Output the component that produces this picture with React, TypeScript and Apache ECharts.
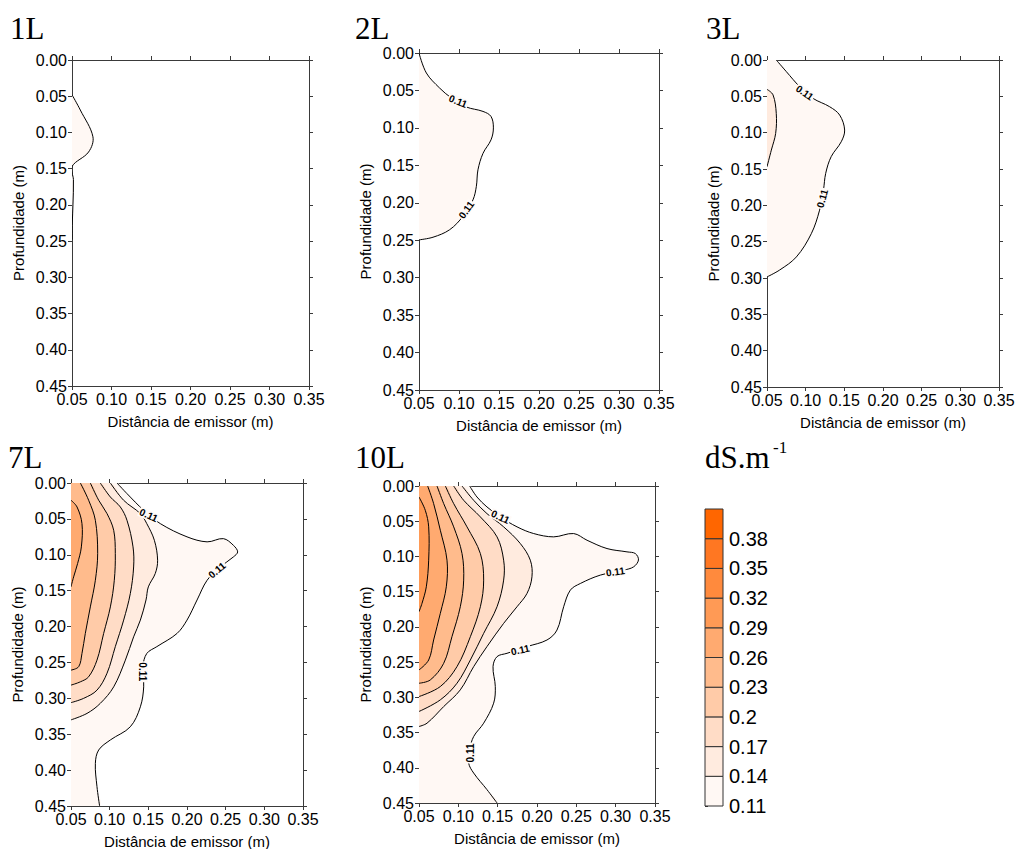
import React, { useEffect, useRef } from "react";
import * as echarts from "echarts";

// ---------- data ----------
const panelTitles = ["1L", "2L", "3L", "7L", "10L"];
const xTickMin = 0.05;
const xTickMax = 0.35;
const xTickStep = 0.05;
const yTickMin = 0;
const yTickMax = 0.45;
const yTickStep = 0.05;

const levels = [0.11, 0.14, 0.17, 0.2, 0.23, 0.26, 0.29, 0.32, 0.35, 0.38];
const bandColors = ["#FFF8F4", "#FFEBDF", "#FFDCC6", "#FFCBA8", "#FFBB8C", "#FFAA70", "#FF9A55", "#FF8A3D", "#FF7722", "#FF6600"];
const bandStep = 0.03;

// contour lines: [distance (m), depth (m)]
const l1_c011 = [[0.05, 0.048], [0.0605, 0.069], [0.0765, 0.106], [0.071, 0.127], [0.05, 0.147], [0.0518, 0.165], [0.0512, 0.2], [0.0504, 0.225], [0.05, 0.248]];

const l2_c011 = [[0.05, 0], [0.0592, 0.0267], [0.0758, 0.0468], [0.0904, 0.06], [0.109, 0.072], [0.13, 0.078], [0.14, 0.0847], [0.143, 0.1], [0.14, 0.116], [0.13, 0.134], [0.1237, 0.156], [0.1217, 0.178], [0.1175, 0.196], [0.105, 0.218], [0.0883, 0.236], [0.0675, 0.246], [0.05, 0.2495]];

const l3_c011 = [[0.062, 0], [0.075, 0.016], [0.0922, 0.0367], [0.1095, 0.0528], [0.131, 0.0643], [0.144, 0.0758], [0.1504, 0.0964], [0.146, 0.1125], [0.133, 0.133], [0.1259, 0.156], [0.123, 0.179], [0.118, 0.2066], [0.1073, 0.239], [0.088, 0.271], [0.0664, 0.289], [0.05, 0.2985]];
const l3_c014 = [[0.05, 0.0404], [0.0578, 0.048], [0.062, 0.0735], [0.0612, 0.101], [0.0556, 0.124], [0.05, 0.147]];

const l7_c011 = [[0.1095, 0], [0.1224, 0.0148], [0.144, 0.038], [0.1655, 0.0566], [0.2, 0.075], [0.226, 0.082], [0.247, 0.0775], [0.26, 0.0868], [0.2655, 0.096], [0.26, 0.103], [0.243, 0.117], [0.226, 0.1355], [0.213, 0.163], [0.2, 0.191], [0.187, 0.2097], [0.161, 0.228], [0.148, 0.2375], [0.143, 0.256], [0.144, 0.284], [0.1397, 0.3118], [0.1267, 0.3396], [0.1009, 0.358], [0.0858, 0.372], [0.0815, 0.3906], [0.0836, 0.423], [0.087, 0.45]];
const l7_c014 = [[0.1009, 0], [0.118, 0.024], [0.1397, 0.0427], [0.148, 0.0566], [0.1578, 0.0798], [0.162, 0.1076], [0.159, 0.126], [0.15, 0.1447], [0.147, 0.163], [0.1397, 0.191], [0.131, 0.2143], [0.1203, 0.2468], [0.1052, 0.284], [0.0879, 0.307], [0.0707, 0.321], [0.05, 0.33]];
const l7_c017 = [[0.0879, 0], [0.1009, 0.0195], [0.1138, 0.0334], [0.1224, 0.052], [0.1302, 0.089], [0.131, 0.117], [0.1267, 0.154], [0.1181, 0.191], [0.1073, 0.228], [0.0966, 0.265], [0.0836, 0.2886], [0.0664, 0.3], [0.05, 0.306]];
const l7_c020 = [[0.075, 0], [0.0858, 0.024], [0.0966, 0.0427], [0.1052, 0.0659], [0.1073, 0.098], [0.106, 0.1355], [0.1009, 0.1726], [0.0922, 0.2097], [0.0836, 0.2468], [0.0728, 0.27], [0.0621, 0.277], [0.05, 0.2816]];
const l7_c023 = [[0.0621, 0], [0.0728, 0.024], [0.0815, 0.052], [0.0845, 0.098], [0.0815, 0.1355], [0.075, 0.1726], [0.0685, 0.2097], [0.0642, 0.2375], [0.0599, 0.256], [0.05, 0.2607]];
const l7_c026 = [[0.05, 0.024], [0.0578, 0.0334], [0.0642, 0.0566], [0.0634, 0.089], [0.0586, 0.112], [0.0534, 0.1308], [0.05, 0.1447]];

const l10_c011 = [[0.1144, 0], [0.1237, 0.0156], [0.1364, 0.0297], [0.1534, 0.0439], [0.1746, 0.058], [0.1958, 0.0675], [0.2212, 0.0722], [0.2466, 0.0675], [0.2636, 0.077], [0.289, 0.0888], [0.3144, 0.0935], [0.325, 0.0959], [0.329, 0.105], [0.3229, 0.1147], [0.31, 0.1195], [0.2805, 0.1265], [0.2551, 0.1384], [0.2424, 0.1478], [0.2339, 0.1714], [0.2254, 0.2045], [0.2127, 0.2186], [0.1873, 0.228], [0.1619, 0.2375], [0.1492, 0.2422], [0.1441, 0.2564], [0.147, 0.2847], [0.1449, 0.3083], [0.1322, 0.3367], [0.1195, 0.3556], [0.1144, 0.3744], [0.1131, 0.3933], [0.1195, 0.4075], [0.1364, 0.431], [0.1492, 0.45]];
const l10_c014 = [[0.1047, 0], [0.1195, 0.0203], [0.1364, 0.0392], [0.1576, 0.058], [0.1788, 0.0817], [0.1915, 0.1053], [0.1936, 0.1289], [0.1873, 0.1525], [0.1746, 0.1714], [0.1576, 0.195], [0.1364, 0.228], [0.1195, 0.2564], [0.1025, 0.2894], [0.0814, 0.3131], [0.0602, 0.3367], [0.05, 0.3414]];
const l10_c017 = [[0.0941, 0], [0.1068, 0.0203], [0.128, 0.0439], [0.1492, 0.0722], [0.1576, 0.1053], [0.1576, 0.1336], [0.1492, 0.1714], [0.1322, 0.2092], [0.1153, 0.247], [0.0983, 0.28], [0.0771, 0.3036], [0.05, 0.3201]];
const l10_c020 = [[0.0835, 0], [0.0941, 0.025], [0.111, 0.058], [0.128, 0.0959], [0.1322, 0.1336], [0.128, 0.1714], [0.1153, 0.2139], [0.0983, 0.2564], [0.0771, 0.2847], [0.05, 0.2989]];
const l10_c023 = [[0.0729, 0], [0.0814, 0.025], [0.0941, 0.058], [0.1047, 0.0959], [0.1068, 0.1336], [0.1025, 0.1714], [0.0919, 0.2139], [0.0814, 0.2517], [0.0644, 0.2753], [0.05, 0.28]];
const l10_c026 = [[0.061, 0], [0.0686, 0.025], [0.0771, 0.0628], [0.0856, 0.1053], [0.0847, 0.1431], [0.0771, 0.1808], [0.0686, 0.2186], [0.0623, 0.247], [0.05, 0.2611]];
const l10_c029 = [[0.05, 0.0156], [0.058, 0.0345], [0.0623, 0.058], [0.0623, 0.1053], [0.0593, 0.1431], [0.0538, 0.1667], [0.05, 0.1785]];

// contour value labels: [distance, depth, angle in degrees]
const l2_labels = [[0.0988, 0.0646, -22], [0.1092, 0.2094, 55]];
const l3_labels = [[0.0987, 0.045, -35], [0.1216, 0.1906, 75]];
const l7_labels = [[0.1504, 0.045, -25], [0.2388, 0.1215, 40], [0.1431, 0.263, -90]];
const l10_labels = [[0.1534, 0.0439, -25], [0.2996, 0.1218, 8], [0.1788, 0.2328, 12], [0.1161, 0.379, 90]];

const panels = [
  { contours: [{ level: 0.11, pts: l1_c011 }], labels: [] as number[][] },
  { contours: [{ level: 0.11, pts: l2_c011 }], labels: l2_labels },
  { contours: [{ level: 0.11, pts: l3_c011 }, { level: 0.14, pts: l3_c014 }], labels: l3_labels },
  {
    contours: [
      { level: 0.11, pts: l7_c011 }, { level: 0.14, pts: l7_c014 }, { level: 0.17, pts: l7_c017 },
      { level: 0.2, pts: l7_c020 }, { level: 0.23, pts: l7_c023 }, { level: 0.26, pts: l7_c026 },
    ],
    labels: l7_labels,
  },
  {
    contours: [
      { level: 0.11, pts: l10_c011 }, { level: 0.14, pts: l10_c014 }, { level: 0.17, pts: l10_c017 },
      { level: 0.2, pts: l10_c020 }, { level: 0.23, pts: l10_c023 }, { level: 0.26, pts: l10_c026 },
      { level: 0.29, pts: l10_c029 },
    ],
    labels: l10_labels,
  },
];

// ---------- layout ----------
const gridRects = [
  [72, 60, 237, 326],
  [419, 53, 240, 337],
  [767, 60, 232, 327],
  [71, 483, 232, 323],
  [419, 486, 236, 317],
];
const titlePos = [[10, 28], [355, 28], [706, 28], [8, 457], [355, 457]];
const colorbarRect = [705, 509, 18, 297];

const SANS = 'Arial, "Liberation Sans", sans-serif';
const SERIF = '"Times New Roman", "Liberation Serif", serif';
const AXIS_COLOR = "#3a3a3a";

function bandIndex(level: number) {
  return levels.findIndex((l) => Math.abs(l - level) < 1e-6);
}

function buildOption() {
  const grid: any[] = [];
  const xAxis: any[] = [];
  const yAxis: any[] = [];
  const series: any[] = [];

  panels.forEach((panel, i) => {
    const [l, t, w, h] = gridRects[i];
    grid.push({ left: l, top: t, width: w, height: h, containLabel: false, outerBoundsMode: "none" });
    const tick = { show: true, inside: false, length: 4, lineStyle: { color: AXIS_COLOR, width: 1 } };
    const line = { show: true, onZero: false, lineStyle: { color: AXIS_COLOR, width: 1 } };
    xAxis.push({
      gridIndex: i, type: "value", position: "bottom", min: xTickMin, max: xTickMax, interval: xTickStep,
      name: "Distância de emissor (m)", nameLocation: "middle", nameGap: 28,
      nameTextStyle: { fontSize: 15, color: "#000", fontFamily: SANS },
      axisLine: line, axisTick: tick, splitLine: { show: false },
      axisLabel: { show: true, fontSize: 16, color: "#000", fontFamily: SANS, margin: 5, hideOverlap: false, showMinLabel: true, showMaxLabel: true, formatter: (v: number) => v.toFixed(2) },
    });
    xAxis.push({
      gridIndex: i, type: "value", position: "top", min: xTickMin, max: xTickMax, interval: xTickStep,
      axisLine: line, axisTick: tick, splitLine: { show: false }, axisLabel: { show: false },
    });
    yAxis.push({
      gridIndex: i, type: "value", position: "left", inverse: true, min: yTickMin, max: yTickMax, interval: yTickStep,
      name: "Profundidade (m)", nameLocation: "middle", nameGap: 46,
      nameTextStyle: { fontSize: 15, color: "#000", fontFamily: SANS },
      axisLine: line, axisTick: tick, splitLine: { show: false },
      axisLabel: { show: true, fontSize: 16, color: "#000", fontFamily: SANS, margin: 5, hideOverlap: false, showMinLabel: true, showMaxLabel: true, formatter: (v: number) => v.toFixed(2) },
    });
    yAxis.push({
      gridIndex: i, type: "value", position: "right", inverse: true, min: yTickMin, max: yTickMax, interval: yTickStep,
      axisLine: line, axisTick: tick, splitLine: { show: false }, axisLabel: { show: false },
    });

    const contours = panel.contours;
    // fills
    series.push({
      type: "custom", xAxisIndex: 2 * i, yAxisIndex: 2 * i, clip: true, silent: true, z: 1,
      data: contours.map((c, ci) => [c.pts[0][0], c.pts[0][1], ci]),
      renderItem: (params: any, api: any) => {
        const c = contours[api.value(2)];
        const pts = c.pts.slice();
        if (pts[0][1] <= yTickMin && pts[0][0] > xTickMin) pts.unshift([xTickMin, yTickMin]);
        const last = pts[pts.length - 1];
        if (last[1] >= yTickMax && last[0] > xTickMin) pts.push([xTickMin, yTickMax]);
        return {
          type: "polyline",
          shape: { points: pts.map((p) => api.coord(p)), smooth: 0.35 },
          style: { fill: bandColors[bandIndex(c.level)], stroke: "none" },
        };
      },
    });
    // contour lines
    series.push({
      type: "custom", xAxisIndex: 2 * i, yAxisIndex: 2 * i, clip: true, silent: true, z: 2,
      data: contours.map((c, ci) => [c.pts[0][0], c.pts[0][1], ci]),
      renderItem: (params: any, api: any) => {
        const c = contours[api.value(2)];
        return {
          type: "polyline",
          shape: { points: c.pts.map((p) => api.coord(p)), smooth: 0.35 },
          style: { fill: "none", stroke: "#000", lineWidth: 1 },
        };
      },
    });
    // labels
    if (panel.labels.length) {
      series.push({
        type: "custom", xAxisIndex: 2 * i, yAxisIndex: 2 * i, silent: true, z: 3,
        data: panel.labels,
        renderItem: (params: any, api: any) => {
          const p = api.coord([api.value(0), api.value(1)]);
          return {
            type: "text", x: p[0], y: p[1], rotation: (api.value(2) * Math.PI) / 180,
            style: {
              text: "0.11", fontSize: 10, fontWeight: "bold", fontFamily: SANS, fill: "#000",
              align: "center", verticalAlign: "middle", backgroundColor: "#FFFAF7", padding: [0, 1],
            },
          };
        },
      });
    }
  });

  // colour bar
  const cbIndex = panels.length;
  const [cl, ct, cw, ch] = colorbarRect;
  grid.push({ left: cl, top: ct, width: cw, height: ch, containLabel: false, outerBoundsMode: "none" });
  xAxis.push({ gridIndex: cbIndex, type: "value", min: 0, max: 1, show: false });
  yAxis.push({
    gridIndex: cbIndex, type: "value", position: "right", min: levels[0], max: levels[levels.length - 1] + bandStep,
    axisLine: { show: false },
    axisTick: { show: true, inside: false, length: 3, customValues: levels, lineStyle: { color: "#333" } },
    splitLine: { show: false },
    axisLabel: {
      show: true, customValues: levels, fontSize: 20, color: "#000", fontFamily: SANS, margin: 6,
      formatter: (v: number) => String(Number(v.toFixed(2))),
    },
  });
  series.push({
    type: "custom", xAxisIndex: 2 * cbIndex, yAxisIndex: 2 * cbIndex, silent: true,
    data: levels.map((lv, k) => [0, lv, k]),
    renderItem: (params: any, api: any) => {
      const k = api.value(2);
      const lo = levels[k];
      const hi = lo + bandStep;
      const p1 = api.coord([0, hi]);
      const p2 = api.coord([1, lo]);
      return {
        type: "rect",
        shape: { x: p1[0], y: p1[1], width: p2[0] - p1[0], height: p2[1] - p1[1] },
        style: { fill: bandColors[k], stroke: "#333", lineWidth: 1 },
      };
    },
  });

  const graphic: any[] = panelTitles.map((t, i) => ({
    type: "text", x: titlePos[i][0], y: titlePos[i][1],
    style: { text: t, fontSize: 31, fontFamily: SERIF, fill: "#000", align: "left", verticalAlign: "middle" },
  }));
  graphic.push({
    type: "text", x: 705, y: 457,
    style: { text: "dS.m", fontSize: 31, fontFamily: SERIF, fill: "#000", align: "left", verticalAlign: "middle" },
  });
  graphic.push({
    type: "text", x: 773, y: 447,
    style: { text: "-1", fontSize: 17, fontFamily: SERIF, fill: "#000", align: "left", verticalAlign: "middle" },
  });

  return { animation: false, backgroundColor: "#fff", grid, xAxis, yAxis, series, graphic };
}

export default function App() {
  const ref = useRef<HTMLDivElement>(null);
  useEffect(() => {
    if (!ref.current) return;
    const chart = echarts.init(ref.current, null, { renderer: "svg" });
    chart.setOption(buildOption() as any);
    return () => chart.dispose();
  }, []);
  return <div ref={ref} style={{ position: "fixed", left: 0, top: 0, width: 1016, height: 849 }} />;
}
